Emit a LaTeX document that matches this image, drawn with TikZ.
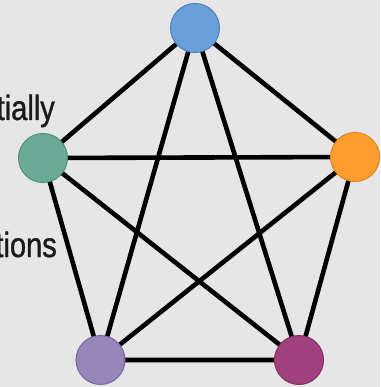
\documentclass[tikz,border=0pt]{standalone}
\usepackage{fontspec}
\setmainfont{Liberation Sans}
\newfontfamily\narrowfont[FakeStretch=0.83,FakeBold=1]{Liberation Sans}
\definecolor{bg}{HTML}{E6E6E6}
\definecolor{cblue}{HTML}{6A9FD8}
\definecolor{cblueb}{HTML}{4C7FBF}
\definecolor{cgreen}{HTML}{6AAA96}
\definecolor{cgreenb}{HTML}{4E8F7A}
\definecolor{corange}{HTML}{FF9D2E}
\definecolor{corangeb}{HTML}{E0801C}
\definecolor{cpurple}{HTML}{9486B8}
\definecolor{cpurpleb}{HTML}{7868A0}
\definecolor{cmag}{HTML}{A0407E}
\definecolor{cmagb}{HTML}{823062}
\definecolor{txt}{HTML}{1A1A1A}
\tikzset{
  vert/.style={circle, minimum size=49pt, inner sep=0pt, line width=1pt},
  edge/.style={line width=4.6pt, black},
  lbl/.style={anchor=base east, inner sep=0pt, font=\narrowfont\fontsize{35}{38}\selectfont, text=txt}
}
\begin{document}
\begin{tikzpicture}[x=1pt,y=-1pt]
\fill[bg] (0,0) rectangle (380,387);
\useasboundingbox (0,0) rectangle (380,387);
\node[lbl] (t1) at (55,120) {tially};
\node[lbl] (t2) at (57,257) {tions};
\coordinate (A) at (195,28);
\coordinate (B) at (43,158);
\coordinate (C) at (355,157);
\coordinate (D) at (100.5,360);
\coordinate (E) at (299,360);
\draw[edge] (A) -- (B) (A) -- (C) (A) -- (D) (A) -- (E)
  (B) -- (C) (B) -- (D) (B) -- (E) (C) -- (D) (C) -- (E) (D) -- (E);
\node[vert, fill=cblue, draw=cblueb] (a) at (A) {};
\node[vert, fill=cgreen, draw=cgreenb] (b) at (B) {};
\node[vert, fill=corange, draw=corangeb] (c) at (C) {};
\node[vert, fill=cpurple, draw=cpurpleb] (d) at (D) {};
\node[vert, fill=cmag, draw=cmagb] (e) at (E) {};
\end{tikzpicture}
\end{document}
